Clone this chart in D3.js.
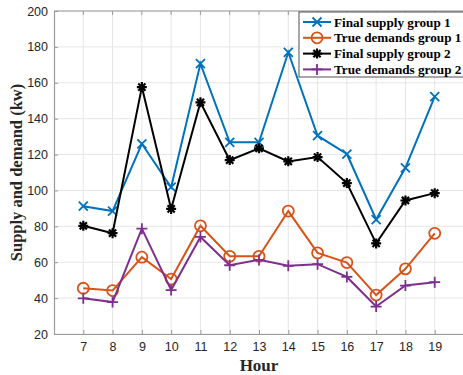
<!DOCTYPE html>
<html><head><meta charset="utf-8">
<script src="https://cdn.jsdelivr.net/npm/d3@7"></script>
<style>body{margin:0;background:#fff}svg{display:block}</style>
</head><body>
<script>
const hours = [7,8,9,10,11,12,13,14,15,16,17,18,19];
const finalSupply1 = [91.2,88.5,126,101.8,170.7,126.8,126.8,177,130.5,120.3,83.8,112.6,152.3];
const trueDemand1 = [45.5,44.2,62.8,50.6,80.3,63.3,63.3,88.5,65.2,59.8,41.7,56.3,76.1];
const finalSupply2 = [80.3,76.2,157.6,89.7,149.1,116.9,123.5,116.2,118.6,104.1,70.5,94.4,98.5];
const trueDemand2 = [39.9,37.8,78.7,44.5,74.1,58.3,61.3,58,58.9,51.8,35.3,47,48.9];
const yTicks = [20,40,60,80,100,120,140,160,180,200];
const seriesNames = ["Final supply group 1","True demands group 1","Final supply group 2","True demands group 2"];
const seriesColors = ["#0072BD","#D95319","#000000","#7E2F8E"];
const seriesMarkers = ["x","o","*","+"];
const seriesData = [finalSupply1, trueDemand1, finalSupply2, trueDemand2];

(function(){
const W = 463, H = 375;
const svg = d3.select("body").append("svg").attr("width", W).attr("height", H);
const pL = 54, pR = 464, pT = 11, pB = 334;
const x = d3.scaleLinear().domain([6,20]).range([pL,pR]);
const y = d3.scaleLinear().domain([20,200]).range([pB,pT]);

// grid
const g = svg.append("g");
g.selectAll("line.gx").data(hours).enter().append("line")
  .attr("x1", d=>x(d)).attr("x2", d=>x(d)).attr("y1", pT).attr("y2", pB)
  .attr("stroke", "#e6e6e6").attr("stroke-width", 1);
g.selectAll("line.gy").data(yTicks).enter().append("line")
  .attr("x1", pL).attr("x2", pR).attr("y1", d=>y(d)).attr("y2", d=>y(d))
  .attr("stroke", "#e6e6e6").attr("stroke-width", 1);

// axes
const xAxis = d3.axisBottom(x).tickValues(hours).tickSizeInner(-4).tickSizeOuter(0).tickPadding(8);
const yAxis = d3.axisLeft(y).tickValues(yTicks).tickSizeInner(-4).tickSizeOuter(0).tickPadding(6);
const gx = svg.append("g").attr("transform", `translate(0,${pB})`).call(xAxis);
const gy = svg.append("g").attr("transform", `translate(${pL},0)`).call(yAxis);
[gx, gy].forEach(a => {
  a.select(".domain").attr("stroke", "#9a9a9a").attr("stroke-width", 1.2);
  a.selectAll(".tick line").attr("stroke", "#9a9a9a");
  a.selectAll(".tick text").attr("font-family", "Liberation Sans, Arial, sans-serif")
    .attr("font-size", 12.5).attr("fill", "#262626");
});
// top border
svg.append("line").attr("x1", pL).attr("x2", pR).attr("y1", pT).attr("y2", pT)
  .attr("stroke", "#9a9a9a").attr("stroke-width", 1.2);
svg.selectAll("line.tt").data(hours).enter().append("line")
  .attr("x1", d=>x(d)).attr("x2", d=>x(d)).attr("y1", pT).attr("y2", pT+4).attr("stroke", "#9a9a9a");

function marker(sel, type, color, cx, cy) {
  const s = 4.5;
  if (type === "x") {
    sel.append("path").attr("d", `M${cx-s},${cy-s}L${cx+s},${cy+s}M${cx-s},${cy+s}L${cx+s},${cy-s}`)
      .attr("stroke", color).attr("stroke-width", 1.8).attr("fill", "none");
  } else if (type === "o") {
    sel.append("circle").attr("cx", cx).attr("cy", cy).attr("r", 5.5)
      .attr("stroke", color).attr("stroke-width", 1.8).attr("fill", "none");
  } else if (type === "+") {
    sel.append("path").attr("d", `M${cx-5.5},${cy}L${cx+5.5},${cy}M${cx},${cy-5.5}L${cx},${cy+5.5}`)
      .attr("stroke", color).attr("stroke-width", 1.8).attr("fill", "none");
  } else if (type === "*") {
    const r = 5;
    const d = `M${cx-r},${cy}L${cx+r},${cy}M${cx},${cy-r}L${cx},${cy+r}` +
      `M${cx-r*0.72},${cy-r*0.72}L${cx+r*0.72},${cy+r*0.72}M${cx-r*0.72},${cy+r*0.72}L${cx+r*0.72},${cy-r*0.72}`;
    sel.append("path").attr("d", d).attr("stroke", color).attr("stroke-width", 2.2).attr("fill", "none");
  }
}

const line = d3.line().x((d,i)=>x(hours[i])).y(d=>y(d));
const plot = svg.append("g");
seriesData.forEach((data, k) => {
  plot.append("path").datum(data).attr("d", line)
    .attr("fill", "none").attr("stroke", seriesColors[k]).attr("stroke-width", 2);
  data.forEach((v, i) => marker(plot, seriesMarkers[k], seriesColors[k], x(hours[i]), y(v)));
});

// axis labels
svg.append("text").attr("x", (pL+pR)/2).attr("y", 371).attr("text-anchor", "middle")
  .attr("font-family", "Liberation Serif, Times New Roman, serif").attr("font-weight", "bold")
  .attr("font-size", 17).attr("fill", "#262626").text("Hour");
svg.append("text").attr("transform", `translate(22,${(pT+pB)/2}) rotate(-90)`).attr("text-anchor", "middle")
  .attr("font-family", "Liberation Serif, Times New Roman, serif").attr("font-weight", "bold")
  .attr("font-size", 16.5).attr("fill", "#262626").text("Supply and demand (kw)");

// legend
const lg = svg.append("g");
lg.append("rect").attr("x", 299).attr("y", 12).attr("width", 170).attr("height", 65)
  .attr("fill", "#fff").attr("stroke", "#262626").attr("stroke-width", 0.8);
seriesNames.forEach((name, k) => {
  const yy = 22 + k*15.8;
  lg.append("line").attr("x1", 303).attr("x2", 331).attr("y1", yy).attr("y2", yy)
    .attr("stroke", seriesColors[k]).attr("stroke-width", 2);
  marker(lg, seriesMarkers[k], seriesColors[k], 317, yy);
  lg.append("text").attr("x", 334).attr("y", yy+4.5).attr("font-family", "Liberation Serif, Times New Roman, serif")
    .attr("font-weight", "bold").attr("font-size", 13.2).attr("fill", "#000").text(name);
});
})();
</script>
</body></html>
